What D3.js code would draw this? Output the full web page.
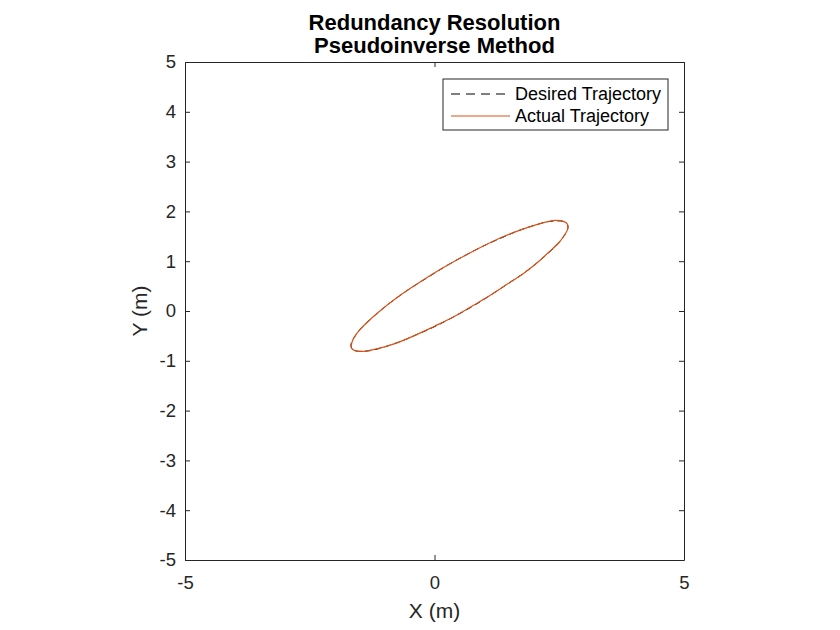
<!DOCTYPE html>
<html lang="en">
<head>
    <meta charset="UTF-8">
    <title>Redundancy Resolution - Pseudoinverse Method</title>
    <script src="https://d3js.org/d3.v7.min.js"></script>
    <style>
        body, html { margin: 0; padding: 0; overflow: hidden; background: #fff; }
        svg { font-family: "Liberation Sans", Arial, Helvetica, sans-serif; }
        .tick-label { font-size: 18.5px; fill: #262626; }
        .axis-title { font-size: 21px; fill: #262626; }
        .title { font-size: 22px; font-weight: bold; fill: #000; text-anchor: middle; }
        .legend-text { font-size: 18px; fill: #000; }
    </style>
</head>
<body>
    <svg width="840" height="630" id="chart"></svg>
    <script>
        // desired end-effector path (m)
        const desiredX = [2.66, 2.58, 2.44, 2.25, 2.00, 1.70, 1.37, 1.01, 0.64, 0.26, -0.11, -0.46,
            -0.79, -1.07, -1.31, -1.49, -1.61, -1.67, -1.66, -1.58, -1.44, -1.25, -1.00, -0.70,
            -0.37, -0.01, 0.36, 0.74, 1.11, 1.46, 1.79, 2.07, 2.31, 2.49, 2.61, 2.67];
        const desiredY = [1.75, 1.80, 1.81, 1.79, 1.72, 1.62, 1.48, 1.32, 1.13, 0.92, 0.69, 0.47,
            0.24, 0.02, -0.19, -0.37, -0.53, -0.65, -0.75, -0.80, -0.81, -0.79, -0.72, -0.62,
            -0.48, -0.32, -0.13, 0.08, 0.31, 0.54, 0.76, 0.98, 1.19, 1.37, 1.53, 1.65];

        // actual path tracked by the manipulator
        const actualX = [2.66, 2.58, 2.44, 2.25, 2.00, 1.70, 1.37, 1.01, 0.64, 0.26, -0.11, -0.46,
            -0.79, -1.07, -1.30, -1.49, -1.61, -1.66, -1.66, -1.58, -1.44, -1.25, -1.00, -0.70,
            -0.37, -0.01, 0.36, 0.74, 1.11, 1.46, 1.79, 2.07, 2.30, 2.49, 2.61, 2.67];
        const actualY = [1.75, 1.80, 1.82, 1.79, 1.72, 1.62, 1.49, 1.32, 1.13, 0.92, 0.70, 0.47,
            0.24, 0.02, -0.18, -0.37, -0.53, -0.65, -0.75, -0.80, -0.81, -0.78, -0.72, -0.62,
            -0.48, -0.31, -0.13, 0.09, 0.31, 0.54, 0.76, 0.98, 1.19, 1.37, 1.53, 1.65];

        const xTicks = [-5, 0, 5];
        const yTicks = [-5, -4, -3, -2, -1, 0, 1, 2, 3, 4, 5];
        const titleLines = ["Redundancy Resolution", "Pseudoinverse Method"];
        const legendLabels = ["Desired Trajectory", "Actual Trajectory"];

        const svg = d3.select("#chart");
        const plot = { left: 185, right: 684, top: 62, bottom: 560 };
        const orange = "#D95319";
        const axisColor = "#262626";

        const x = d3.scaleLinear().domain([-5, 5]).range([plot.left, plot.right]);
        const y = d3.scaleLinear().domain([-5, 5]).range([plot.bottom, plot.top]);

        // title
        svg.selectAll(".title")
            .data(titleLines)
            .enter()
            .append("text")
            .attr("class", "title")
            .attr("x", (plot.left + plot.right) / 2)
            .attr("y", (d, i) => 29.5 + i * 23.5)
            .text(d => d);

        // axes - MATLAB style, ticks inside, box on
        const tickLen = 5;
        const fmt = d => String(d); // plain hyphen minus like MATLAB
        const xAxisB = d3.axisBottom(x).tickValues(xTicks).tickFormat(fmt).tickSizeInner(-tickLen).tickSizeOuter(0).tickPadding(16);
        const xAxisT = d3.axisTop(x).tickValues(xTicks).tickSizeInner(-tickLen).tickSizeOuter(0).tickFormat("");
        const yAxisL = d3.axisLeft(y).tickValues(yTicks).tickFormat(fmt).tickSizeInner(-tickLen).tickSizeOuter(0).tickPadding(9);
        const yAxisR = d3.axisRight(y).tickValues(yTicks).tickSizeInner(-tickLen).tickSizeOuter(0).tickFormat("");

        function styleAxis(g) {
            g.select(".domain").attr("stroke", axisColor).attr("stroke-width", 1);
            g.selectAll(".tick line").attr("stroke", axisColor).attr("stroke-width", 1);
            g.selectAll(".tick text").attr("class", "tick-label").attr("font-family", null).attr("font-size", null);
        }

        svg.append("g").attr("transform", `translate(0,${plot.bottom})`).call(xAxisB).call(styleAxis)
            .selectAll(".tick text").attr("dy", "0.71em");
        svg.append("g").attr("transform", `translate(0,${plot.top})`).call(xAxisT).call(styleAxis);
        svg.append("g").attr("transform", `translate(${plot.left},0)`).call(yAxisL).call(styleAxis);
        svg.append("g").attr("transform", `translate(${plot.right},0)`).call(yAxisR).call(styleAxis);

        // axis titles
        svg.append("text")
            .attr("class", "axis-title")
            .attr("x", (plot.left + plot.right) / 2)
            .attr("y", 618)
            .attr("text-anchor", "middle")
            .text("X (m)");

        svg.append("text")
            .attr("class", "axis-title")
            .attr("transform", `translate(147,${(plot.top + plot.bottom) / 2}) rotate(-90)`)
            .attr("text-anchor", "middle")
            .text("Y (m)");

        // trajectories
        const line = d3.line()
            .x(d => x(d[0]))
            .y(d => y(d[1]))
            .curve(d3.curveCatmullRomClosed);

        const desired = desiredX.map((v, i) => [v, desiredY[i]]);
        const actual = actualX.map((v, i) => [v, actualY[i]]);

        svg.append("path")
            .datum(desired)
            .attr("d", line)
            .attr("fill", "none")
            .attr("stroke", "#000")
            .attr("stroke-width", 1)
            .attr("stroke-dasharray", "6,4");

        svg.append("path")
            .datum(actual)
            .attr("d", line)
            .attr("fill", "none")
            .attr("stroke", orange)
            .attr("stroke-width", 1.2);

        // legend
        const legend = svg.append("g").attr("transform", "translate(443,79)");
        legend.append("rect")
            .attr("width", 225)
            .attr("height", 51)
            .attr("fill", "#fff")
            .attr("stroke", axisColor)
            .attr("stroke-width", 1);

        const legendStyles = [
            { stroke: "#000", dash: "9,6" },
            { stroke: orange, dash: null }
        ];

        const rows = legend.selectAll(".legend-row")
            .data(legendLabels)
            .enter()
            .append("g")
            .attr("transform", (d, i) => `translate(0,${15 + i * 22})`);

        rows.append("line")
            .attr("x1", 8)
            .attr("x2", 67)
            .attr("stroke", (d, i) => legendStyles[i].stroke)
            .attr("stroke-dasharray", (d, i) => legendStyles[i].dash)
            .attr("stroke-width", 1);

        rows.append("text")
            .attr("class", "legend-text")
            .attr("x", 72)
            .attr("dy", "0.35em")
            .text(d => d);
    </script>
</body>
</html>
